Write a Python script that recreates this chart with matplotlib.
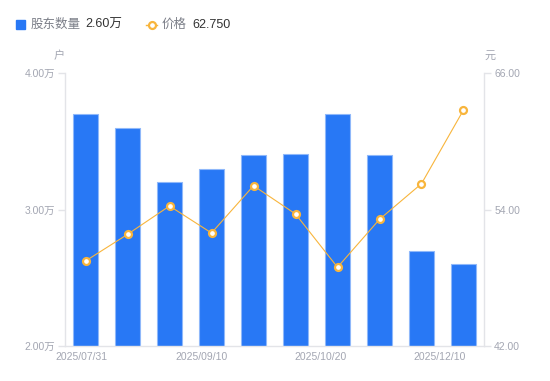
import matplotlib
matplotlib.use("Agg")
import matplotlib.pyplot as plt
import numpy as np

plt.rcParams["font.family"] = ["Liberation Sans", "Noto Sans CJK SC", "DejaVu Sans"]

# 数据
dates = ["2025/07/31", "2025/08/10", "2025/08/20", "2025/09/10", "2025/09/20",
         "2025/09/30", "2025/10/20", "2025/10/31", "2025/11/20", "2025/12/10"]
holders = [3.70, 3.60, 3.20, 3.30, 3.40, 3.41, 3.70, 3.40, 2.70, 2.60]   # 万户
prices = [49.49, 51.83, 54.32, 51.95, 56.10, 53.62, 48.94, 53.15, 56.28, 62.75]
shown_dates = [dates[0], dates[3], dates[6], dates[9]]

BAR = "#2878f5"
BAR_EDGE = "#8fb8fa"
LINE = "#f8b53c"
AXIS = "#e3e4e8"
TICK = "#a3a6b2"

fig = plt.figure(figsize=(5.5, 3.81), dpi=100)
ax = fig.add_axes([0.1173, 0.0911, 0.7636, 0.7173])
ax2 = ax.twinx()

x = np.arange(len(dates))
ax.bar(x, holders, width=0.6, color=BAR, edgecolor=BAR_EDGE, linewidth=0.8, zorder=2)
ax2.plot(x, prices, color=LINE, linewidth=0.8, marker="o", markersize=5,
         markerfacecolor="white", markeredgecolor=LINE, markeredgewidth=1.6, zorder=3)

ax.set_xlim(-0.5, len(dates) - 0.5)
ax.set_ylim(2.0, 4.0)
ax2.set_ylim(42.0, 66.0)

ax.set_yticks([2.0, 3.0, 4.0])
ax.set_yticklabels([f"{v:.2f}万" for v in [2.0, 3.0, 4.0]])
ax2.set_yticks([42.0, 54.0, 66.0])
ax2.set_yticklabels([f"{v:.2f}" for v in [42.0, 54.0, 66.0]])

# x 轴标签间隔均匀，略偏离柱中心
ax.set_xticks(np.linspace(-0.09, 8.44, len(shown_dates)))
ax.set_xticklabels(shown_dates)

for a in (ax, ax2):
    for s in a.spines.values():
        s.set_visible(False)
ax.spines["left"].set_visible(True)
ax.spines["bottom"].set_visible(True)
ax2.spines["right"].set_visible(True)
for s in (ax.spines["left"], ax.spines["bottom"], ax2.spines["right"]):
    s.set_color(AXIS)
    s.set_linewidth(1.0)

ax.tick_params(axis="y", length=5, width=1, color=AXIS, labelsize=7.5, labelcolor=TICK, pad=2)
ax2.tick_params(axis="y", length=5, width=1, color=AXIS, labelsize=7.5, labelcolor=TICK, pad=2)
ax.tick_params(axis="x", length=0, labelsize=7.5, labelcolor=TICK, pad=4)

# 单位
fig.text(59 / 550, 1 - 56 / 381, "户", fontsize=8, color=TICK, ha="center", va="center")
fig.text(490 / 550, 1 - 56 / 381, "元", fontsize=8, color=TICK, ha="center", va="center")

# 图例
fig.patches.append(plt.Rectangle((16 / 550, 1 - 29 / 381), 9 / 550, 9 / 381,
                                 transform=fig.transFigure, color=BAR, figure=fig))
fig.text(31 / 550, 1 - 24.5 / 381, "股东数量", fontsize=9, color="#7b7e88", va="center")
fig.text(85 / 550, 1 - 24.5 / 381, f"{holders[-1]:.2f}万", fontsize=9, color="#333333", va="center")
fig.add_artist(plt.Line2D([146 / 550, 157 / 550], [1 - 24.5 / 381, 1 - 24.5 / 381],
                          color=LINE, linewidth=1, marker="o", markevery=[0], markersize=0,
                          transform=fig.transFigure))
fig.add_artist(plt.Line2D([151.5 / 550], [1 - 24.5 / 381], marker="o", markersize=5,
                          markerfacecolor="white", markeredgecolor=LINE, markeredgewidth=1.6,
                          linestyle="none", transform=fig.transFigure))
fig.text(162 / 550, 1 - 24.5 / 381, "价格", fontsize=9, color="#7b7e88", va="center")
fig.text(192 / 550, 1 - 24.5 / 381, f"{prices[-1]:.3f}", fontsize=9, color="#333333", va="center")

fig.savefig("out.png", dpi=100)
